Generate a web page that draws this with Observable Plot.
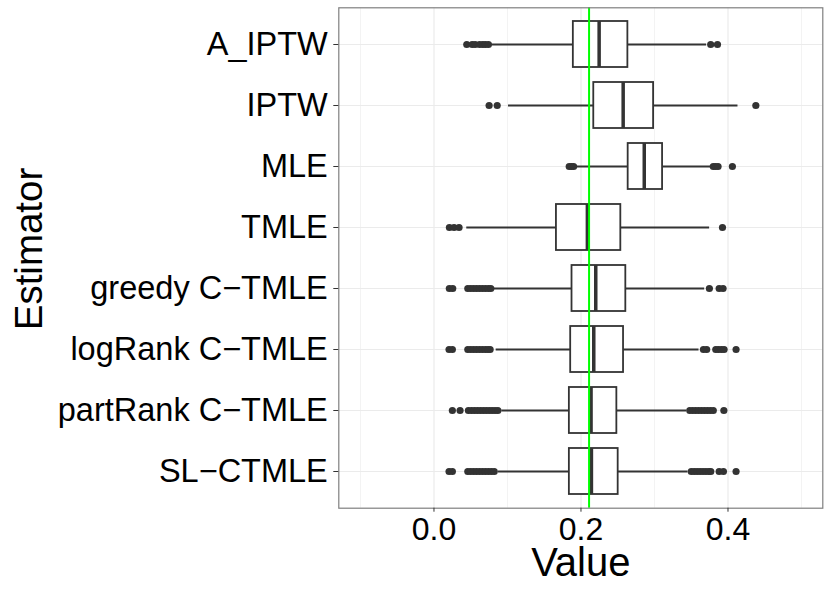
<!DOCTYPE html>
<html>
<head>
<meta charset="utf-8">
<script src="https://cdn.jsdelivr.net/npm/d3@7"></script>
<script src="https://cdn.jsdelivr.net/npm/@observablehq/plot@0.6"></script>
<style>
  html, body { margin: 0; padding: 0; background: white; }
</style>
</head>
<body>
<div id="chart"></div>
<script>
const estimators = ["A_IPTW", "IPTW", "MLE", "TMLE", "greedy C−TMLE", "logRank C−TMLE", "partRank C−TMLE", "SL−CTMLE"];
const q1     = [0.1896, 0.2174, 0.2642, 0.1666, 0.1878, 0.1860, 0.1842, 0.1842];
const median = [0.2247, 0.2574, 0.2861, 0.2087, 0.2201, 0.2174, 0.2137, 0.2142];
const q3     = [0.2638, 0.2988, 0.3110, 0.2542, 0.2610, 0.2579, 0.2488, 0.2506];
const whiskerLow  = [0.0787, 0.1014, 0.1946, 0.0446, 0.0810, 0.0846, 0.0923, 0.0878];
const whiskerHigh = [0.3710, 0.4136, 0.3775, 0.3750, 0.3683, 0.3606, 0.3438, 0.3456];
const outliers = [
  [0.0446, 0.0520, 0.0560, 0.0620, 0.0664, 0.0700, 0.0741, 0.3765, 0.3857],
  [0.0750, 0.0860, 0.4379],
  [0.1840, 0.1870, 0.1900, 0.3800, 0.3830, 0.3865, 0.4060],
  [0.0210, 0.0273, 0.0341, 0.3925],
  [0.0209, 0.0255, 0.0460, 0.0500, 0.0540, 0.0580, 0.0620, 0.0660, 0.0700, 0.0740, 0.0773, 0.3747, 0.3880, 0.3933],
  [0.0205, 0.0250, 0.0460, 0.0500, 0.0540, 0.0580, 0.0620, 0.0660, 0.0700, 0.0735, 0.0764, 0.3666, 0.3710, 0.3834, 0.3870, 0.3910, 0.3947, 0.4110],
  [0.0250, 0.0355, 0.0468, 0.0510, 0.0550, 0.0590, 0.0630, 0.0670, 0.0710, 0.0750, 0.0790, 0.0830, 0.0869, 0.3480, 0.3520, 0.3560, 0.3600, 0.3640, 0.3680, 0.3720, 0.3760, 0.3800, 0.3944],
  [0.0205, 0.0250, 0.0460, 0.0500, 0.0540, 0.0580, 0.0620, 0.0660, 0.0700, 0.0740, 0.0780, 0.0820, 0.3500, 0.3540, 0.3580, 0.3620, 0.3660, 0.3700, 0.3740, 0.3766, 0.3880, 0.3938, 0.4110]
];
const trueValue = 0.211;
const majorTicks = [0.0, 0.2, 0.4];
const minorTicks = [-0.1, 0.1, 0.3, 0.5];

const rows = estimators.map((e, i) => ({e, q1: q1[i], med: median[i], q3: q3[i], lo: whiskerLow[i], hi: whiskerHigh[i]}));
const outRows = estimators.flatMap((e, i) => outliers[i].map(v => ({e, v})));

const chart = Plot.plot({
  width: 830,
  height: 589,
  marginLeft: 338.3,
  marginRight: 7.7,
  marginTop: 7.3,
  marginBottom: 81.3,
  style: {fontFamily: "'Liberation Sans', Arial, Helvetica, sans-serif", background: "white", color: "black"},
  x: {domain: [-0.1295, 0.529]},
  y: {type: "band", domain: estimators, paddingInner: 0.25, paddingOuter: 0.225},
  marks: [
    Plot.ruleX(minorTicks, {stroke: "#f3f3f3", strokeWidth: 1}),
    Plot.ruleX(majorTicks, {stroke: "#ebebeb", strokeWidth: 1.2}),
    Plot.gridY({stroke: "#ebebeb", strokeOpacity: 1, strokeWidth: 1.2}),
    Plot.ruleY(rows, {y: "e", x1: "lo", x2: "q1", stroke: "#333333", strokeWidth: 1.8}),
    Plot.ruleY(rows, {y: "e", x1: "q3", x2: "hi", stroke: "#333333", strokeWidth: 1.8}),
    Plot.barX(rows, {y: "e", x1: "q1", x2: "q3", fill: "white", stroke: "#333333", strokeWidth: 1.8}),
    Plot.tickX(rows, {y: "e", x: "med", stroke: "#333333", strokeWidth: 3.5}),
    Plot.dot(outRows, {y: "e", x: "v", r: 3.6, fill: "#333333", stroke: "none"}),
    Plot.ruleX([trueValue], {stroke: "#00ff00", strokeWidth: 2}),
    Plot.frame({stroke: "#7f7f7f", strokeWidth: 1.2}),
    Plot.axisX({ticks: majorTicks, tickFormat: d3.format(".1f"), fontSize: 32, tickSize: 4, tickPadding: 4.6, label: null, color: "black", stroke: "#333333"}),
    Plot.axisY({fontSize: 32.5, tickSize: 5, tickPadding: 6, label: null, color: "black", stroke: "#333333"}),
    Plot.text(["Value"], {text: d => d, frameAnchor: "bottom", dy: 68, fontSize: 40, lineAnchor: "bottom", textAnchor: "middle", fill: "black"}),
    Plot.text(["Estimator"], {text: d => d, frameAnchor: "left", dx: -296.6, dy: -9, rotate: -90, fontSize: 38.5, lineAnchor: "bottom", textAnchor: "middle", fill: "black"})
  ]
});
document.getElementById("chart").appendChild(chart);
</script>
</body>
</html>
